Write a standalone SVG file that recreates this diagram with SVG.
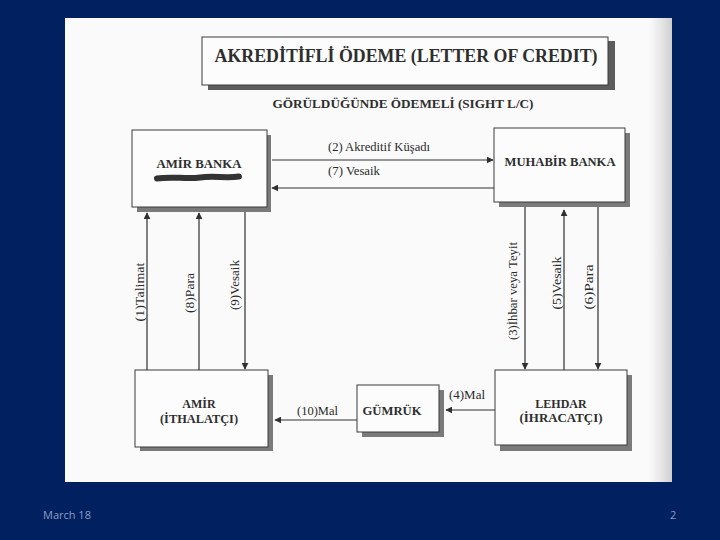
<svg xmlns="http://www.w3.org/2000/svg" width="720" height="540" viewBox="0 0 720 540">
<defs>
<style>
.bx{fill:#fcfcfc;stroke:#3a3a3a;stroke-width:1}
.sh{fill:#7a7a7a}
.nt{font-family:"Liberation Serif","Times New Roman",serif;font-weight:bold;fill:#2e2e2e;text-anchor:middle}
.lb{font-family:"Liberation Serif","Times New Roman",serif;fill:#2a2a2a;font-size:12px}
.vl{font-family:"Liberation Serif","Times New Roman",serif;fill:#2a2a2a;font-size:13px;text-anchor:middle}
.cn{stroke:#303030;stroke-width:1.2;fill:none}
.ft{font-family:"Open Sans","Liberation Sans",sans-serif;font-size:11px;fill:#8a9cc2}
</style>
<marker id="ah" viewBox="0 0 10 10" refX="9" refY="5" markerWidth="7" markerHeight="7" orient="auto" markerUnits="userSpaceOnUse">
<path d="M0,0 L10,5 L0,10 Z" fill="#303030"/>
</marker>
<linearGradient id="edge" x1="0" y1="0" x2="1" y2="0">
<stop offset="0" stop-color="#cfcfcf" stop-opacity="0"/>
<stop offset="1" stop-color="#b0b0b0" stop-opacity="0.6"/>
</linearGradient>
</defs>
<rect x="0" y="0" width="720" height="540" fill="#002060"/>
<rect x="65" y="18" width="607" height="464" fill="#fafafa"/>
<rect x="648" y="18" width="24" height="464" fill="url(#edge)"/>

<g id="title">
<rect x="208" y="41" width="407" height="49" fill="#5c5c5c"/>
<rect class="bx" x="202" y="37" width="406" height="48"/>
<text class="nt" x="406" y="62" font-size="18" textLength="383" lengthAdjust="spacingAndGlyphs">AKREDİTİFLİ ÖDEME (LETTER OF CREDIT)</text>
</g>
<g id="subtitle">
<text class="nt" x="403" y="108" font-size="12.5" textLength="261" lengthAdjust="spacingAndGlyphs">GÖRÜLDÜĞÜNDE ÖDEMELİ (SIGHT L/C)</text>
</g>

<g id="amir-banka">
<rect class="sh" x="137" y="135" width="134" height="77"/>
<rect class="bx" x="132" y="130" width="135" height="77"/>
<text class="nt" x="199" y="168" font-size="12" textLength="85" lengthAdjust="spacingAndGlyphs">AMİR BANKA</text>
<path d="M157,178.5 C172,176 186,179.5 200,177.5 S226,178.5 239,176.5" stroke="#333" stroke-width="6" stroke-linecap="round" fill="none"/>
</g>

<g id="muhabir-banka">
<rect class="sh" x="499" y="133" width="131" height="74"/>
<rect class="bx" x="494" y="128" width="131" height="74"/>
<text class="nt" x="560" y="166" font-size="12" textLength="111" lengthAdjust="spacingAndGlyphs">MUHABİR BANKA</text>
</g>

<g id="amir-ithalatci">
<rect class="sh" x="140" y="375" width="133" height="76"/>
<rect class="bx" x="135" y="370" width="133" height="77"/>
<text class="nt" x="199" y="408" font-size="12">AMİR</text>
<text class="nt" x="199" y="423" font-size="12" textLength="78" lengthAdjust="spacingAndGlyphs">(İTHALATÇI)</text>
</g>

<g id="gumruk">
<rect class="sh" x="362" y="390" width="82" height="47"/>
<rect class="bx" x="357" y="385" width="82" height="47"/>
<text class="nt" x="392" y="415" font-size="11.5" textLength="59" lengthAdjust="spacingAndGlyphs">GÜMRÜK</text>
</g>

<g id="lehdar-ihracatci">
<rect class="sh" x="500" y="375" width="132" height="76"/>
<rect class="bx" x="495" y="370" width="132" height="75"/>
<text class="nt" x="561" y="408" font-size="12">LEHDAR</text>
<text class="nt" x="561" y="422" font-size="12" textLength="83" lengthAdjust="spacingAndGlyphs">(İHRACATÇI)</text>
</g>

<g id="connectors">
<line class="cn" x1="272" y1="160" x2="493" y2="160" marker-end="url(#ah)"/>
<line class="cn" x1="494" y1="188" x2="272" y2="188" marker-end="url(#ah)"/>
<line class="cn" x1="147" y1="370" x2="147" y2="213" marker-end="url(#ah)"/>
<line class="cn" x1="199" y1="370" x2="199" y2="213" marker-end="url(#ah)"/>
<line class="cn" x1="245" y1="212" x2="245" y2="369" marker-end="url(#ah)"/>
<line class="cn" x1="525" y1="207" x2="525" y2="369" marker-end="url(#ah)"/>
<line class="cn" x1="564" y1="370" x2="564" y2="210" marker-end="url(#ah)"/>
<line class="cn" x1="598" y1="207" x2="598" y2="369" marker-end="url(#ah)"/>
<line class="cn" x1="357" y1="420" x2="275" y2="420" marker-end="url(#ah)"/>
<line class="cn" x1="495" y1="410" x2="446" y2="410" marker-end="url(#ah)"/>
<text class="lb" x="328" y="151" textLength="102" lengthAdjust="spacingAndGlyphs">(2) Akreditif Küşadı</text>
<text class="lb" x="328" y="175" textLength="52" lengthAdjust="spacingAndGlyphs">(7) Vesaik</text>
<text class="vl" transform="translate(144,292) rotate(-90)" textLength="59" lengthAdjust="spacingAndGlyphs">(1)Talimat</text>
<text class="vl" transform="translate(194,293) rotate(-90)" textLength="40" lengthAdjust="spacingAndGlyphs">(8)Para</text>
<text class="vl" transform="translate(239,285) rotate(-90)" textLength="50" lengthAdjust="spacingAndGlyphs">(9)Vesaik</text>
<text class="vl" transform="translate(517,291) rotate(-90)" textLength="98" lengthAdjust="spacingAndGlyphs">(3)İhbar veya Teyit</text>
<text class="vl" transform="translate(561,283) rotate(-90)" textLength="53" lengthAdjust="spacingAndGlyphs">(5)Vesaik</text>
<text class="vl" transform="translate(593,287) rotate(-90)" textLength="45" lengthAdjust="spacingAndGlyphs">(6)Para</text>
<text class="lb" x="297" y="415" textLength="41" lengthAdjust="spacingAndGlyphs">(10)Mal</text>
<text class="lb" x="449" y="399" textLength="36" lengthAdjust="spacingAndGlyphs">(4)Mal</text>
</g>

<g id="footer">
<text class="ft" x="43" y="519">March 18</text>
<text class="ft" x="670" y="519">2</text>
</g>
</svg>
